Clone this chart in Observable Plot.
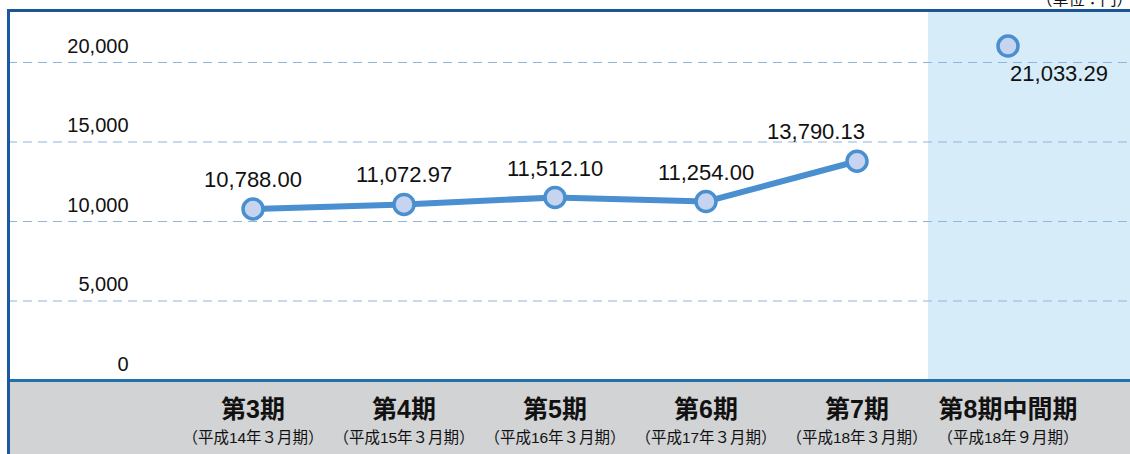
<!DOCTYPE html>
<html>
<head>
<meta charset="utf-8">
<script src="https://cdn.jsdelivr.net/npm/d3@7"></script>
<script src="https://cdn.jsdelivr.net/npm/@observablehq/plot@0.6"></script>
<style>
  html, body { margin: 0; padding: 0; background: #fff; overflow: hidden; }
  #chart svg { display: block; }
</style>
</head>
<body>
<div id="chart"></div>
<script>
// ---- data ----
const periods = ["第3期", "第4期", "第5期", "第6期", "第7期", "第8期中間期"];
const periodDates = ["（平成14年３月期）", "（平成15年３月期）", "（平成16年３月期）", "（平成17年３月期）", "（平成18年３月期）", "（平成18年９月期）"];
const values = [10788.00, 11072.97, 11512.10, 11254.00, 13790.13, 21033.29];
const yTicks = [0, 5000, 10000, 15000, 20000];
const yMax = 23270;
const unitLabel = "（単位：円）";
const interimPeriod = "第8期中間期";

const rows = periods.map((p, i) => ({period: p, date: periodDates[i], value: values[i]}));
const annualRows = rows.filter(d => d.period !== interimPeriod);
const fmt = d3.format(",.2f");
const dateOf = new Map(periods.map((p, i) => [p, periodDates[i]]));

const LINE = "#4a8fcf";
const chart = Plot.plot({
  width: 1130,
  height: 454,
  marginTop: 10,
  marginBottom: 74,
  marginLeft: 8,
  marginRight: 0,
  style: {fontFamily: "'Liberation Sans', 'Noto Sans CJK JP', sans-serif", background: "#fff", overflow: "visible"},
  x: {type: "band", domain: periods, range: [176.5, 1083], padding: 0},
  y: {domain: [0, yMax], range: [380, 10]},
  marks: [
    // gray band below the chart
    Plot.frame({fill: "#d2d3d5", stroke: null, insetTop: 370, insetBottom: -74}),
    // shaded interim column
    Plot.barY([{period: interimPeriod}], {x: "period", y1: 0, y2: yMax, fill: "#d6ecf9", insetLeft: -4, insetRight: -48}),
    // dashed gridlines
    Plot.ruleY(yTicks.filter(t => t > 0), {stroke: "#8fb6dc", strokeWidth: 1.2, strokeDasharray: "9,6"}),
    // y tick labels
    Plot.axisY({ticks: yTicks, tickSize: 0, tickPadding: 0, dx: 120, dy: -16, fontSize: 20, tickFormat: d3.format(","), label: null, fill: "#111"}),
    // x labels
    Plot.axisX({tickSize: 0, tickPadding: 0, lineAnchor: "middle", dy: 29, fontSize: 25, fontWeight: "bold", label: null, fill: "#111"}),
    Plot.axisX({tickSize: 0, tickPadding: 0, lineAnchor: "middle", dy: 58, fontSize: 15.5, label: null, tickFormat: p => dateOf.get(p), fill: "#111"}),
    // borders
    Plot.ruleY([0], {stroke: "#1f72ad", strokeWidth: 3}),
    Plot.frame({anchor: "top", stroke: "#1b5594", strokeWidth: 3}),
    Plot.frame({anchor: "left", stroke: "#1b5aa0", strokeWidth: 3, insetBottom: -74}),
    // line and points
    Plot.line(annualRows, {x: "period", y: "value", stroke: LINE, strokeWidth: 6}),
    Plot.dot(rows, {x: "period", y: "value", r: 10, fill: "#c6d4ef", stroke: LINE, strokeWidth: 3.5}),
    // value labels
    Plot.text(rows.slice(0, 4), {x: "period", y: "value", text: d => fmt(d.value), dy: -29, fontSize: 22, fill: "#111", lineAnchor: "middle"}),
    Plot.text(rows.slice(4, 5), {x: "period", y: "value", text: d => fmt(d.value), dx: -41, dy: -29, fontSize: 22, fill: "#111", lineAnchor: "middle"}),
    Plot.text(rows.slice(5, 6), {x: "period", y: "value", text: d => fmt(d.value), dx: 51, dy: 28, fontSize: 22, fill: "#111", lineAnchor: "middle"}),
    // unit label (mostly cut off at top, as in the source)
    Plot.text([unitLabel], {frameAnchor: "top-right", text: d => d, textAnchor: "end", lineAnchor: "bottom", dy: -6, dx: 2, fontSize: 16, fill: "#111"})
  ]
});
document.getElementById("chart").appendChild(chart);
</script>
</body>
</html>
